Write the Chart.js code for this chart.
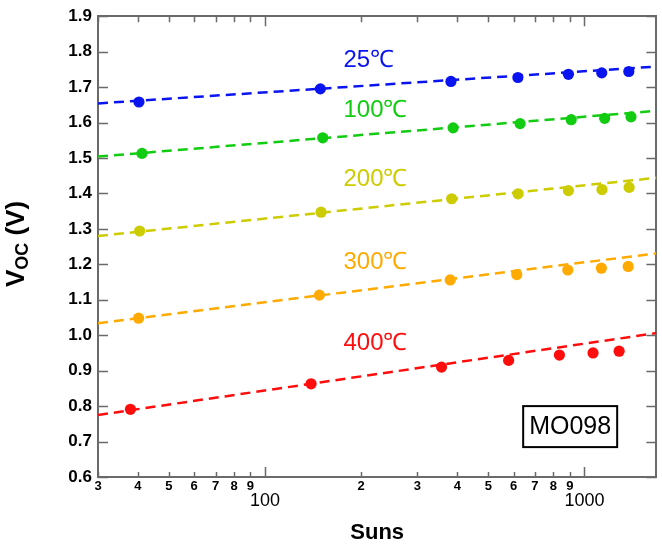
<!DOCTYPE html>
<html>
<head>
<meta charset="utf-8">
<title>Voc vs Suns</title>
<script src="https://cdn.jsdelivr.net/npm/chart.js@4.4.1/dist/chart.umd.min.js"></script>
<style>
  html, body { margin: 0; padding: 0; background: #fff; }
  #chart { display: block; }
</style>
</head>
<body>
<canvas id="chart" width="662" height="551"></canvas>
<script>
'use strict';

// ---- Data ----
const seriesNames  = ['25℃', '100℃', '200℃', '300℃', '400℃'];
const seriesColors = ['#0a14f0', '#12cc12', '#cccc00', '#ffaa00', '#ff0d0d'];

const suns25  = [40.3, 149, 382, 619, 891, 1133, 1377];
const voc25   = [1.658, 1.695, 1.716, 1.727, 1.736, 1.740, 1.744];
const suns100 = [41.2, 151.6, 388, 629, 909, 1157, 1399];
const voc100  = [1.513, 1.557, 1.585, 1.597, 1.608, 1.612, 1.616];
const suns200 = [40.5, 149.8, 384, 620, 891, 1135, 1380];
const voc200  = [1.294, 1.347, 1.385, 1.399, 1.408, 1.411, 1.417];
const suns300 = [40.2, 148, 380, 614, 887, 1130, 1371];
const voc300  = [1.048, 1.113, 1.156, 1.171, 1.184, 1.189, 1.194];
const suns400 = [37.9, 139.4, 357, 579, 835, 1064, 1284];
const voc400  = [0.791, 0.863, 0.910, 0.929, 0.944, 0.950, 0.955];

// fitted dashed lines: value at each end of the x range
const fitSuns = [30, 1680];
const fit25   = [1.654, 1.758];
const fit100  = [1.504, 1.633];
const fit200  = [1.280, 1.444];
const fit300  = [1.034, 1.231];
const fit400  = [0.775, 1.006];

// series label positions (data coords)
const labelSuns = 176;
const labelVoc  = [1.775, 1.635, 1.440, 1.205, 0.978];

// sample tag
const sampleName = 'MO098';
const sampleSuns = 643;
const sampleVoc  = 0.800;

// axis ticks
const xTicks = [30, 40, 50, 60, 70, 80, 90, 100, 200, 300, 400, 500, 600, 700, 800, 900, 1000];
const xMajor = [100, 1000];

// ---- helpers ----
const FONT = "'Liberation Sans', Arial, sans-serif";
const axisColor = '#6a6a6a';

function pts(xs, ys) {
  return xs.map((x, i) => ({ x: x, y: ys[i] }));
}

const pointSets = [
  pts(suns25, voc25), pts(suns100, voc100), pts(suns200, voc200),
  pts(suns300, voc300), pts(suns400, voc400)
];
const fitSets = [fit25, fit100, fit200, fit300, fit400].map(f => pts(fitSuns, f));

const datasets = [];
fitSets.forEach((d, i) => {
  datasets.push({
    label: seriesNames[i] + ' fit',
    data: d,
    showLine: true,
    borderColor: seriesColors[i],
    borderWidth: 2.5,
    borderDash: [10, 6],
    pointRadius: 0,
    fill: false
  });
});
pointSets.forEach((d, i) => {
  datasets.push({
    label: seriesNames[i],
    data: d,
    showLine: false,
    backgroundColor: seriesColors[i],
    borderColor: seriesColors[i],
    borderWidth: 0,
    pointRadius: 5.6
  });
});

// ---- plugin: inward tick marks on all four sides ----
const innerTicks = {
  id: 'innerTicks',
  afterDatasetsDraw(chart) {
    const c = chart.ctx;
    const a = chart.chartArea;
    const xs = chart.scales.x;
    const ys = chart.scales.y;
    c.save();
    c.strokeStyle = axisColor;
    c.lineWidth = 1.5;
    c.beginPath();
    xs.ticks.forEach(t => {
      const px = Math.round(xs.getPixelForValue(t.value)) + 0.5;
      const major = xMajor.includes(t.value);
      const lb = major ? 10 : 5;
      const lt = major ? 10 : 6;
      c.moveTo(px, a.bottom); c.lineTo(px, a.bottom - lb);
      c.moveTo(px, a.top); c.lineTo(px, a.top + lt);
    });
    ys.ticks.forEach(t => {
      const py = Math.round(ys.getPixelForValue(t.value)) + 0.5;
      c.moveTo(a.left, py); c.lineTo(a.left + 10, py);
      c.moveTo(a.right, py); c.lineTo(a.right - 10, py);
    });
    c.stroke();
    c.restore();
  }
};

// ---- plugin: series labels, sample box, y title with subscript ----
const textLayer = {
  id: 'textLayer',
  afterDraw(chart) {
    const c = chart.ctx;
    const xs = chart.scales.x;
    const ys = chart.scales.y;
    c.save();

    // series labels
    c.font = '24px ' + FONT;
    c.textAlign = 'left';
    c.textBaseline = 'middle';
    labelVoc.forEach((v, i) => {
      c.fillStyle = seriesColors[i];
      c.fillText(seriesNames[i], xs.getPixelForValue(labelSuns), ys.getPixelForValue(v));
    });

    // sample box
    const bx = xs.getPixelForValue(sampleSuns);
    const by = ys.getPixelForValue(sampleVoc);
    c.strokeStyle = '#000';
    c.lineWidth = 2;
    c.strokeRect(bx, by, 94, 41);
    c.fillStyle = '#000';
    c.font = '25px ' + FONT;
    c.textAlign = 'center';
    c.fillText(sampleName, bx + 47, by + 21);

    // y axis title: V_OC (V)
    c.translate(17, 244);
    c.rotate(-Math.PI / 2);
    c.fillStyle = '#000';
    c.textBaseline = 'middle';
    const big = 'bold 26px ' + FONT;
    const small = 'bold 18px ' + FONT;
    c.font = big;
    const wV = c.measureText('V').width;
    const wR = c.measureText(' (V)').width;
    c.font = small;
    const wS = c.measureText('OC').width;
    let x0 = -(wV + wS + wR) / 2;
    c.textAlign = 'left';
    c.font = big;
    c.fillText('V', x0, 0);
    c.font = small;
    c.fillText('OC', x0 + wV, 6);
    c.font = big;
    c.fillText(' (V)', x0 + wV + wS, 0);
    c.restore();
  }
};

function xLabel(v) {
  if (xMajor.includes(v)) return String(v);
  const p = Math.pow(10, Math.floor(Math.log10(v) + 1e-9));
  return String(Math.round(v / p));
}

const hiddenAxisBase = {
  grid: { drawOnChartArea: false, drawTicks: false },
  border: { color: axisColor, width: 2 },
  ticks: { display: false }
};

new Chart(document.getElementById('chart').getContext('2d'), {
  type: 'scatter',
  data: { datasets: datasets },
  options: {
    responsive: false,
    animation: false,
    layout: { padding: 0 },
    plugins: {
      legend: { display: false },
      tooltip: { enabled: false }
    },
    scales: {
      x: {
        type: 'logarithmic',
        position: 'bottom',
        min: 30,
        max: 1680,
        afterBuildTicks: s => { s.ticks = xTicks.map(v => ({ value: v })); },
        afterFit: s => { s.height = 74; },
        grid: { drawOnChartArea: false, drawTicks: false },
        border: { color: axisColor, width: 2 },
        ticks: {
          autoSkip: false,
          maxRotation: 0,
          padding: 2.5,
          color: '#000',
          callback: v => xLabel(v),
          font: ctx => (ctx.tick && xMajor.includes(ctx.tick.value))
            ? { family: FONT, size: 18, lineHeight: 2.36 }
            : { family: FONT, size: 13, weight: 'bold', lineHeight: 1.1 }
        },
        title: {
          display: true,
          text: 'Suns',
          color: '#000',
          font: { family: FONT, size: 22, weight: 'bold' },
          padding: { top: 0, bottom: 5 }
        }
      },
      xTop: Object.assign({
        type: 'logarithmic',
        position: 'top',
        min: 30,
        max: 1680,
        afterFit: s => { s.height = 13; }
      }, hiddenAxisBase),
      y: {
        type: 'linear',
        position: 'left',
        min: 0.6,
        max: 1.9,
        afterFit: s => { s.width = 98; },
        grid: { drawOnChartArea: false, drawTicks: false },
        border: { color: axisColor, width: 2 },
        ticks: {
          stepSize: 0.1,
          padding: 6,
          color: '#000',
          font: { family: FONT, size: 17, weight: 'bold' },
          callback: v => Number(v).toFixed(1)
        }
      },
      yRight: Object.assign({
        type: 'linear',
        position: 'right',
        min: 0.6,
        max: 1.9,
        afterFit: s => { s.width = 2; }
      }, hiddenAxisBase)
    }
  },
  plugins: [innerTicks, textLayer]
});
</script>
</body>
</html>
